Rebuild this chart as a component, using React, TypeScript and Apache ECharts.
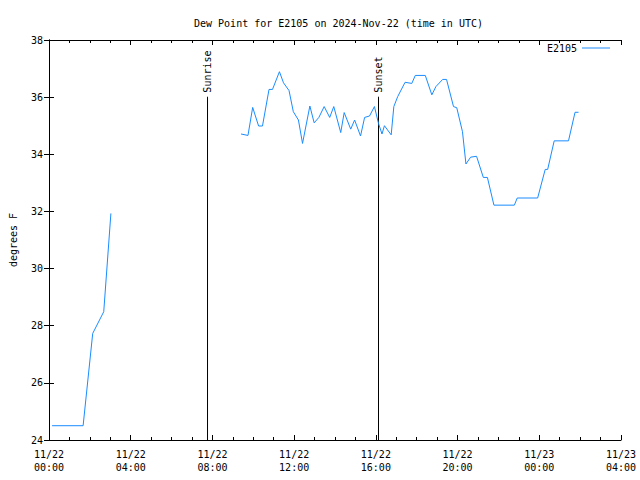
import React, { useEffect, useRef } from 'react';
import * as echarts from 'echarts';

const titleText = 'Dew Point for E2105 on 2024-Nov-22 (time in UTC)';
const stationName = 'E2105';
const yAxisName = 'degrees F';

// hours after 2024-11-22 00:00 UTC ; null = gap in record
const hoursUTC = [
  0.15, 1.67, 2.14, 2.68, 3.03,
  6.0,
  9.40, 9.74, 9.97, 10.26, 10.45, 10.77, 10.94, 11.28, 11.48, 11.75, 11.96, 12.21, 12.41,
  12.77, 12.98, 13.21, 13.47, 13.74, 13.94, 14.28, 14.45, 14.77, 14.96, 15.25, 15.45,
  15.69, 15.93, 16.13, 16.30, 16.42, 16.75, 16.88, 17.07, 17.43, 17.76, 17.93, 18.42,
  18.74, 18.94, 19.27, 19.46, 19.80, 19.96, 20.24, 20.41, 20.64, 20.93, 21.26, 21.46,
  21.78, 22.78, 22.92, 23.92, 24.29, 24.41, 24.73, 25.43, 25.75, 25.92,
];
const dewPointF: (number | null)[] = [
  24.5, 24.5, 27.73, 28.49, 31.93,
  null,
  34.71, 34.66, 35.64, 34.99, 34.99, 36.27, 36.27, 36.89, 36.50, 36.23, 35.49, 35.20, 34.38,
  35.69, 35.10, 35.29, 35.67, 35.29, 35.67, 34.76, 35.46, 34.88, 35.20, 34.64, 35.29,
  35.34, 35.67, 35.08, 34.71, 35.00, 34.68, 35.67, 36.02, 36.52, 36.48, 36.76, 36.76,
  36.08, 36.37, 36.62, 36.62, 35.67, 35.63, 34.79, 33.66, 33.90, 33.93, 33.19, 33.19,
  32.22, 32.22, 32.47, 32.47, 33.47, 33.47, 34.47, 34.47, 35.47, 35.47,
];

const sunriseHour = 7.76;
const sunsetHour = 16.13;
const sunLineTop = 36;

const tickDays = ['11/22', '11/22', '11/22', '11/22', '11/22', '11/22', '11/23', '11/23'];
const tickTimes = ['00:00', '04:00', '08:00', '12:00', '16:00', '20:00', '00:00', '04:00'];

const X_MIN = 0;
const X_MAX = 28;
const Y_MIN = 24;
const Y_MAX = 38;

const MONO = '"DejaVu Sans Mono", monospace';
const LINE_COLOR = '#1a8cff';

export default function App() {
  const ref = useRef<HTMLDivElement>(null);
  useEffect(() => {
    if (!ref.current) return;
    const chart = echarts.init(ref.current, undefined, { renderer: 'svg' });
    const data = hoursUTC.map((h, i) => [h, dewPointF[i] === null ? '-' : dewPointF[i]]);

    const sunSeries = (name: string, hour: number) => ({
      name,
      type: 'line',
      silent: true,
      symbol: 'circle',
      symbolSize: 1,
      showSymbol: true,
      xAxisIndex: 0,
      yAxisIndex: 0,
      lineStyle: { color: '#000', width: 1 },
      itemStyle: { color: '#000' },
      label: { show: false },
      data: [
        [hour, Y_MIN],
        {
          value: [hour, sunLineTop],
          label: {
            show: true,
            formatter: name,
            position: 'top',
            distance: 4,
            rotate: 90,
            align: 'left',
            verticalAlign: 'middle',
            color: '#000',
            fontFamily: MONO,
            fontSize: 10,
          },
        },
      ],
      z: 2,
    });

    const axisLine = { show: true, lineStyle: { color: '#000', width: 1 } };

    chart.setOption({
      animation: false,
      backgroundColor: '#fff',
      title: {
        text: titleText,
        left: 189,
        top: 13,
        textStyle: { fontFamily: MONO, fontSize: 10, fontWeight: 'normal', color: '#000' },
      },
      legend: {
        data: [{ name: stationName, icon: 'rect' }],
        right: 30,
        top: 43,
        padding: 0,
        align: 'right',
        itemWidth: 28,
        itemHeight: 1,
        itemStyle: { color: LINE_COLOR },
        textStyle: { fontFamily: MONO, fontSize: 10, color: '#000' },
      },
      grid: { left: 46, right: 19, top: 40, bottom: 40, containLabel: false },
      xAxis: [
        {
          type: 'value',
          min: X_MIN,
          max: X_MAX,
          interval: 4,
          axisLine,
          axisTick: { show: true, inside: true, length: 5, lineStyle: { color: '#000' } },
          minorTick: { show: true, splitNumber: 4, length: 3, lineStyle: { color: '#000' } },
          splitLine: { show: false },
          axisLabel: {
            margin: 8,
            fontFamily: MONO,
            fontSize: 10,
            color: '#000',
            lineHeight: 13,
            formatter: (v: number) => {
              const i = Math.round(v / 4);
              return tickDays[i] + '\n' + tickTimes[i];
            },
          },
        },
        {
          type: 'value',
          position: 'top',
          min: X_MIN,
          max: X_MAX,
          interval: 4,
          axisLine,
          axisTick: { show: true, inside: true, length: 5, lineStyle: { color: '#000' } },
          minorTick: { show: true, splitNumber: 4, length: 3, lineStyle: { color: '#000' } },
          splitLine: { show: false },
          axisLabel: { show: false },
        },
      ],
      yAxis: [
        {
          type: 'value',
          min: Y_MIN,
          max: Y_MAX,
          interval: 2,
          name: yAxisName,
          nameLocation: 'middle',
          nameRotate: 90,
          nameGap: 31,
          nameTextStyle: { fontFamily: MONO, fontSize: 10, color: '#000' },
          axisLine,
          axisTick: { show: true, inside: true, length: 5, lineStyle: { color: '#000' } },
          splitLine: { show: false },
          axisLabel: { margin: 6, fontFamily: MONO, fontSize: 10, color: '#000' },
        },
        {
          type: 'value',
          position: 'right',
          min: Y_MIN,
          max: Y_MAX,
          interval: 2,
          axisLine,
          axisTick: { show: true, inside: true, length: 5, lineStyle: { color: '#000' } },
          splitLine: { show: false },
          axisLabel: { show: false },
        },
      ],
      series: [
        {
          name: stationName,
          type: 'line',
          symbol: 'none',
          showSymbol: false,
          connectNulls: false,
          lineStyle: { color: LINE_COLOR, width: 1 },
          itemStyle: { color: LINE_COLOR },
          data,
          z: 3,
        },
        sunSeries('Sunrise', sunriseHour),
        sunSeries('Sunset', sunsetHour),
      ],
    });
    return () => chart.dispose();
  }, []);
  return <div ref={ref} style={{ width: 640, height: 480, position: 'absolute', left: 0, top: 0 }} />;
}
